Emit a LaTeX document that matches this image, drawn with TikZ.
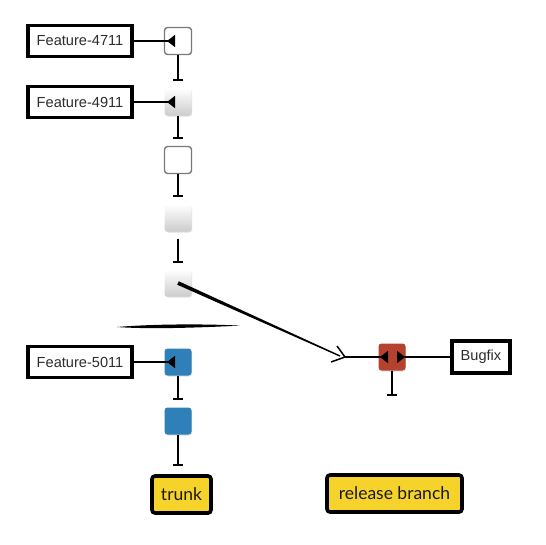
\documentclass[tikz,border=0pt]{standalone}
\usepackage{fontspec}
\setmainfont{Liberation Sans}
\newfontfamily\tagfont{Lato}
\usetikzlibrary{arrows.meta,shadows,calc}
\definecolor{cblue}{RGB}{47,128,184}
\definecolor{cred}{RGB}{181,66,46}
\definecolor{cyel}{RGB}{246,211,42}
\definecolor{cgray}{RGB}{122,122,122}
\definecolor{ctext}{RGB}{45,45,45}
\begin{document}
\begin{tikzpicture}[x=1pt,y=-1pt,
  commit/.style={minimum size=27pt,inner sep=0pt,rounded corners=3pt},
  plaincommit/.style={commit,draw=cgray,fill=white,line width=1.4pt},
  shadedcommit/.style={commit,top color=white,bottom color=black!20,
     drop shadow={opacity=0.25,shadow xshift=0.6pt,shadow yshift=-1pt}},
  bluecommit/.style={commit,fill=cblue,
     drop shadow={opacity=0.25,shadow xshift=0.6pt,shadow yshift=-1pt}},
  redcommit/.style={commit,fill=cred,
     drop shadow={opacity=0.25,shadow xshift=0.6pt,shadow yshift=-1pt}},
  reflabel/.style={draw=black,line width=3.4pt,fill=white,inner sep=0pt,
     minimum width=104pt,minimum height=31pt,text=ctext,
     font=\fontsize{14.6}{17}\selectfont},
  branchtag/.style={draw=black,line width=3.6pt,fill=cyel,rounded corners=3pt,
     inner sep=0pt,minimum height=37pt,text=black!90,
     font=\tagfont\fontsize{17.5}{20}\selectfont},
  parentline/.style={line width=1.4pt,-{Bar[width=10pt,line width=2pt]}},
  refline/.style={line width=1.4pt,-{Triangle[reversed,length=8pt,width=12pt]}}
]
\useasboundingbox (0,0) rectangle (546,544);

% commits
\node[plaincommit]  (c1) at (178,41)  {};
\node[shadedcommit] (c2) at (178,102) {};
\node[plaincommit]  (c3) at (178,160) {};
\node[shadedcommit] (c4) at (178,218) {};
\node[shadedcommit] (c5) at (178,283) {};
\node[bluecommit]   (b1) at (178,362) {};
\node[bluecommit]   (b2) at (178,421) {};
\node[redcommit]    (r)  at (392,357) {};

% labels
\node[reflabel] (f1) at (80,41)  {Feature-4711};
\node[reflabel] (f2) at (80,102) {Feature-4911};
\node[reflabel] (f3) at (80,362) {Feature-5011};
\node[reflabel,minimum width=58pt,minimum height=32pt] (bug) at (481,357) {Bugfix};

% branch tags
\node[branchtag,minimum width=59pt] (trunk) at (181.5,494.5) {trunk};
\node[branchtag,minimum width=135pt] (rel) at (394.5,493.5) {release branch};

% parent connectors
\draw[parentline] (c1.south) -- ($(c2.north)+(0,-7)$);
\draw[parentline] (c2.south) -- ($(c3.north)+(0,-7)$);
\draw[parentline] (c3.south) -- ($(c4.north)+(0,-7)$);
\draw[parentline] ($(c4.south)+(0,7)$) -- ($(c5.north)+(0,-6)$);
\draw[parentline] (b1.south) -- ($(b2.north)+(0,-7)$);
\draw[parentline] (b2.south) -- ($(b2.south |- trunk.north)+(0,-8)$);
\draw[parentline] (r.south) -- ($(r.south)+(0,25)$);

% label connectors
\draw[refline] (f1.east) -- ($(c1.center)+(-3,0)$);
\draw[refline] (f2.east) -- ($(c2.center)+(-3,0)$);
\draw[refline] (f3.east) -- ($(b1.center)+(-3,0)$);
\draw[refline] (bug.west) -- ($(r.center)+(5,0)$);

% branch-off connector
\coordinate (bend) at (345,357);
\fill[black] ($(c5.center)+(-0.8,1.7)$) -- ($(c5.center)+(0.8,-1.7)$)
   -- (340.3,355.4) -- (339.7,356.6) -- cycle;
\draw[line width=1.5pt,line join=miter] ($(bend)+(-8,-11)$) -- (bend) -- ($(bend)+(-14,5)$);
\draw[refline] (bend) -- ($(r.center)+(-4,0)$);

% brush stroke separator
\fill[black] (117,327) .. controls (150,324.2) and (200,323.6) .. (240,325.6)
   .. controls (200,327.6) and (150,329.4) .. (117,327) -- cycle;
\end{tikzpicture}
\end{document}
